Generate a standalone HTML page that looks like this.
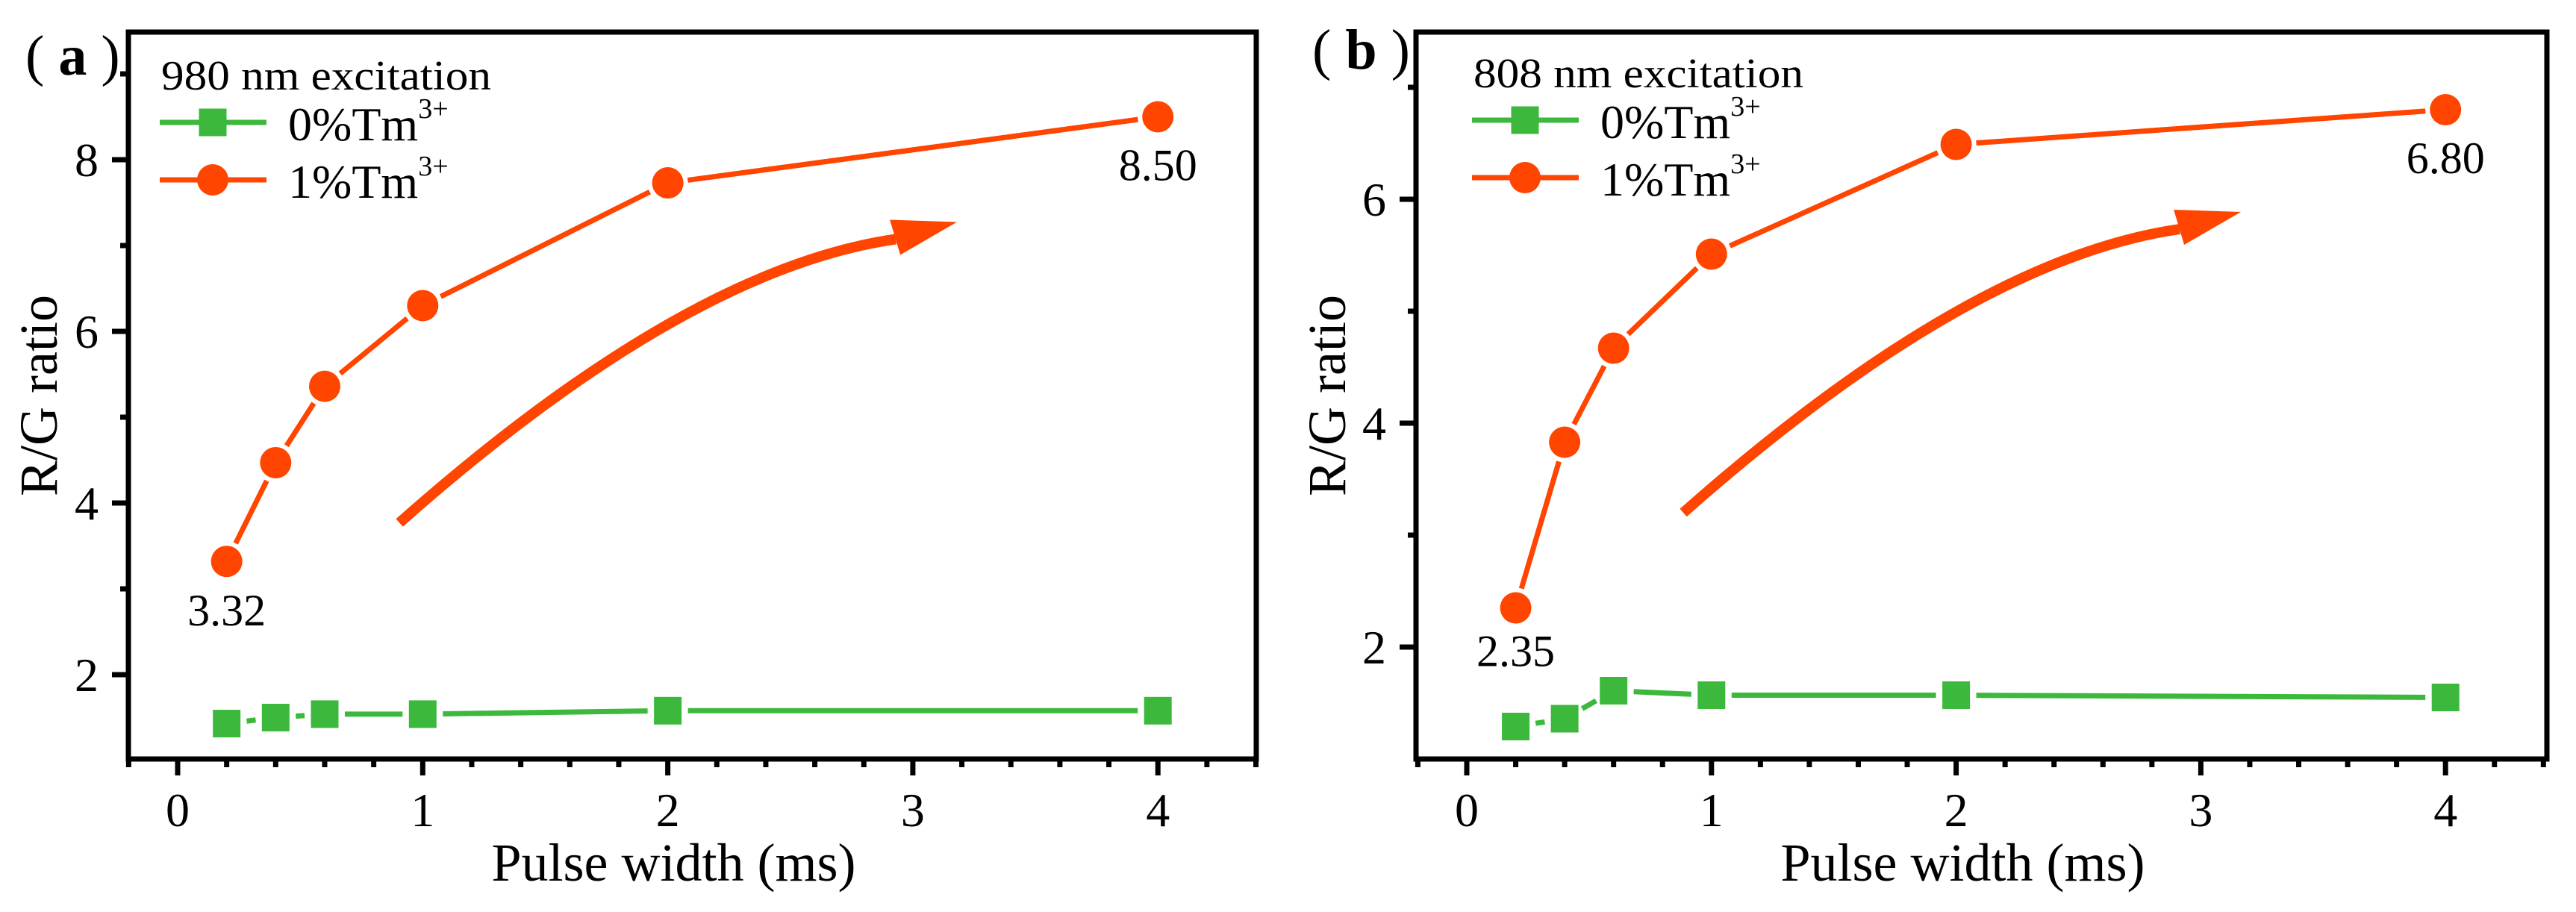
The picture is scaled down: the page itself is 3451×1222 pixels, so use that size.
<!DOCTYPE html>
<html><head><meta charset="utf-8"><style>
html,body{margin:0;padding:0;background:#fff;}
svg{display:block;}
svg text{font-family:"Liberation Serif","Times New Roman",serif;}
</style></head><body>
<svg id="fig" width="3451" height="1222" viewBox="0 0 3451 1222" xmlns="http://www.w3.org/2000/svg" font-family="Liberation Serif, serif"></svg>
<script>
const pulseWidths = [0.2, 0.4, 0.6, 1, 2, 4];
const ratioA1Tm = [3.32, 4.47, 5.36, 6.30, 7.73, 8.50];
const ratioA0Tm = [1.43, 1.50, 1.54, 1.54, 1.58, 1.58];
const ratioB1Tm = [2.35, 3.83, 4.67, 5.51, 6.49, 6.80];
const ratioB0Tm = [1.29, 1.36, 1.61, 1.57, 1.57, 1.55];
const xTickLabels = [0, 1, 2, 3, 4];
const yTicksA = [2, 4, 6, 8];
const yTicksB = [2, 4, 6];
const labelsA = ["3.32", "8.50"];
const labelsB = ["2.35", "6.80"];

const NS = "http://www.w3.org/2000/svg";
const svg = document.getElementById("fig");
const RED = "#ff4500", GREEN = "#3cb93c";
function mk(tag, attrs, parent) {
  const e = document.createElementNS(NS, tag);
  for (const k in attrs) e.setAttribute(k, attrs[k]);
  (parent || svg).appendChild(e);
  return e;
}

function panel(cfg) {
  const g = mk("g", {});
  
  
  const X = v => cfg.x0 + (v - 0) * cfg.xs;
  const Y = v => cfg.y0 - (v - cfg.yv0) * cfg.ys;
  const L = cfg.left, R = cfg.right, T = 43, B = 1017;
  const fr = mk("rect", {x: L, y: T, width: R - L, height: B - T, fill: "none", stroke: "#000", "stroke-width": 7}, g);
  
  
  for (let i = -1; i <= 22; i++) {
    const v = i * 0.2;
    const xp = X(v);
    if (xp < L - 2 || xp > R + 2) continue;
    const major = i % 5 === 0;
    const t = mk("line", {x1: xp, x2: xp, y1: B, y2: B + (major ? 22 : 11), stroke: "#000", "stroke-width": 7}, g);
    
    
  }
  xTickLabels.forEach(v => {
    const t = mk("text", {x: X(v), y: 1107, "font-size": 64, "text-anchor": "middle"}, g);
    t.textContent = v;
    
    
  });
  for (let v = Math.ceil(cfg.yMin); v <= cfg.yMax; v++) {
    const yp = Y(v);
    if (yp > B - 3 || yp < T + 3) continue;
    const major = cfg.yTicks.includes(v);
    const t = mk("line", {x1: L, x2: L - (major ? 22 : 11), y1: yp, y2: yp, stroke: "#000", "stroke-width": 7}, g);
    
    
  }
  cfg.yTicks.forEach(v => {
    const t = mk("text", {x: L - 40, y: Y(v) + 22, "font-size": 64, "text-anchor": "end"}, g);
    t.textContent = v;
    
    
  });
  const xt = mk("text", {x: (L + R) / 2 - 25, y: 1180, "font-size": 72, "text-anchor": "middle"}, g);
  xt.textContent = "Pulse width (ms)";
  
  
  const yt = mk("text", {x: 0, y: 0, "font-size": 72, "text-anchor": "middle", transform: `translate(${cfg.ytx},530) rotate(-90)`}, g);
  yt.textContent = "R/G ratio";
  
  
  const pl = mk("text", {x: cfg.plx, y: cfg.ply, "font-size": 76}, g);
  pl.innerHTML = '(<tspan font-weight="bold"> ' + cfg.letter + ' </tspan>)';
  
  
  function series(vals, color, kind, nm) {
    const sg = mk("g", {}, g);
    
    
    const pts = pulseWidths.map((p, i) => [X(p), Y(vals[i])]);
    for (let i = 0; i < pts.length - 1; i++) {
      const [x1, y1] = pts[i], [x2, y2] = pts[i + 1];
      const d = Math.hypot(x2 - x1, y2 - y1), gap = 27;
      if (d <= 2 * gap) continue;
      const ux = (x2 - x1) / d, uy = (y2 - y1) / d;
      const s = mk("line", {x1: x1 + ux * gap, y1: y1 + uy * gap, x2: x2 - ux * gap, y2: y2 - uy * gap, stroke: color, "stroke-width": 7}, sg);
      
      
    }
    pts.forEach(([px, py]) => {
      let m;
      if (kind === "c") m = mk("circle", {cx: px, cy: py, r: 21, fill: color}, sg);
      else m = mk("rect", {x: px - 18.5, y: py - 18.5, width: 37, height: 37, fill: color}, sg);
      
      
    });
  }
  series(cfg.g0, GREEN, "s", "series-0-tm");
  series(cfg.r1, RED, "c", "series-1-tm");
  [[0, cfg.lab[0]], [5, cfg.lab[1]]].forEach(([i, txt], k) => {
    const yy = Y(cfg.r1[i]) + (k === 0 ? cfg.lab0dy : 85);
    const t = mk("text", {x: X(pulseWidths[i]), y: yy, "font-size": 60, "text-anchor": "middle"}, g);
    t.textContent = txt;
    
    
  });
  const ax = X(cfg.arrowStart[0]), ay = Y(cfg.arrowStart[1]);
  const ar = mk("path", {d: `M${ax},${ay} Q${ax + 384},${ay - 340} ${ax + 665},${ay - 380}`, fill: "none", stroke: RED, "stroke-width": 14}, g);
  
  
  const ah = mk("polygon", {points: `${ax + 657},${ay - 406} ${ax + 747},${ay - 403} ${ax + 671},${ay - 359}`, fill: RED}, g);
  
  
  const lg = mk("g", {}, g);
  
  
  const lx = cfg.legX, ly = cfg.legY;
  const h = mk("text", {x: lx + 2, y: ly, "font-size": 56, textLength: 442, lengthAdjust: "spacingAndGlyphs"}, lg);
  h.textContent = cfg.title;
  
  
  [[GREEN, "s", "0%Tm", 44], [RED, "c", "1%Tm", 121]].forEach(([c, k, txt, dy]) => {
    const e = mk("g", {}, lg);
    
    
    const cy = ly + dy, cx = lx + 71;
    mk("line", {x1: lx, x2: lx + 143, y1: cy, y2: cy, stroke: c, "stroke-width": 7}, e);
    if (k === "c") mk("circle", {cx: cx, cy: cy, r: 21, fill: c}, e);
    else mk("rect", {x: cx - 18.5, y: cy - 18.5, width: 37, height: 37, fill: c}, e);
    const t = mk("text", {x: lx + 172, y: cy + 24, "font-size": 64}, e);
    t.innerHTML = txt + '<tspan font-size="38" dy="-30">3+</tspan>';
  });
}

panel({name: "panel-a", letter: "a", left: 172, right: 1683, x0: 238, xs: 328.3, y0: 1134, yv0: 0, ys: 115,
  yMin: 1, yMax: 9.5, yTicks: yTicksA, ytx: 76, plx: 34, ply: 100, lab0dy: 86,
  g0: ratioA0Tm, r1: ratioA1Tm, lab: labelsA, arrowStart: [0.905, 3.77],
  legX: 214, legY: 120, title: "980 nm excitation"});
panel({name: "panel-b", letter: "b", left: 1897, right: 3412, x0: 1965, xs: 327.8, y0: 867, yv0: 2, ys: 150,
  yMin: 1, yMax: 7.5, yTicks: yTicksB, ytx: 1802, plx: 1758, ply: 92, lab0dy: 78,
  g0: ratioB0Tm, r1: ratioB1Tm, lab: labelsB, arrowStart: [0.885, 3.2],
  legX: 1972, legY: 117, title: "808 nm excitation"});
</script>
</body></html>
